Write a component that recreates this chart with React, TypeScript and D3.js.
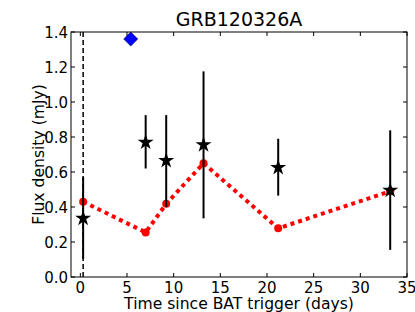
import React, { useEffect, useRef } from 'react';
import * as d3 from 'd3';

// flux measurements (stars with error bars)
const obsDays = [0.3, 7.0, 9.2, 13.2, 21.2, 33.2];
const obsFlux = [0.335, 0.77, 0.665, 0.755, 0.625, 0.495];
const obsLow = [0.105, 0.62, 0.40, 0.335, 0.465, 0.155];
const obsHigh = [0.57, 0.925, 0.925, 1.175, 0.79, 0.838];

// model curve (red dots + dotted line)
const modelDays = [0.3, 7.0, 9.2, 13.2, 21.2, 33.2];
const modelFlux = [0.43, 0.255, 0.418, 0.65, 0.278, 0.49];

// blue diamond
const extraDay = [5.4];
const extraFlux = [1.36];

const triggerDay = 0.3;
const xTicks = [0, 5, 10, 15, 20, 25, 30, 35];
const yTicks = [0, 0.2, 0.4, 0.6, 0.8, 1.0, 1.2, 1.4];

const W = 415;
const H = 312;
const margin = { left: 71, right: 8, top: 32, bottom: 35 };

export default function App() {
  const ref = useRef<SVGSVGElement>(null);

  useEffect(() => {
    if (!ref.current) return;
    const svg = d3.select(ref.current);
    svg.selectAll('*').remove();

    const x = d3.scaleLinear().domain([-1, 35]).range([margin.left, W - margin.right]);
    const y = d3.scaleLinear().domain([0, 1.4]).range([H - margin.bottom, margin.top]);
    const font = 'DejaVu Sans';

    svg.append('rect').attr('width', W).attr('height', H).attr('fill', '#fff');

    // dashed trigger line
    svg.append('line')
      .attr('x1', x(triggerDay)).attr('x2', x(triggerDay))
      .attr('y1', y(1.4)).attr('y2', y(0))
      .attr('stroke', '#000').attr('stroke-width', 1.5)
      .attr('stroke-dasharray', '5,3');

    // model dotted line
    const line = d3.line<number>()
      .x((_, i) => x(modelDays[i]))
      .y(d => y(d));
    svg.append('path')
      .datum(modelFlux)
      .attr('d', line)
      .attr('fill', 'none')
      .attr('stroke', '#ff0000')
      .attr('stroke-width', 4)
      .attr('stroke-dasharray', '4,4');

    svg.append('g').selectAll('circle')
      .data(modelFlux)
      .join('circle')
      .attr('cx', (_, i) => x(modelDays[i]))
      .attr('cy', d => y(d))
      .attr('r', 4)
      .attr('fill', '#ff0000');

    // error bars
    svg.append('g').selectAll('line')
      .data(obsDays)
      .join('line')
      .attr('x1', d => x(d)).attr('x2', d => x(d))
      .attr('y1', (_, i) => y(obsLow[i]))
      .attr('y2', (_, i) => y(obsHigh[i]))
      .attr('stroke', '#000').attr('stroke-width', 2);

    // stars
    const star = d3.symbol().type(d3.symbolStar).size(80);
    svg.append('g').selectAll('path')
      .data(obsFlux)
      .join('path')
      .attr('d', star)
      .attr('transform', (d, i) => `translate(${x(obsDays[i])},${y(d)})`)
      .attr('fill', '#000');

    // diamond
    svg.append('g').selectAll('rect')
      .data(extraFlux)
      .join('rect')
      .attr('x', -5).attr('y', -5).attr('width', 10).attr('height', 10)
      .attr('transform', (d, i) => `translate(${x(extraDay[i])},${y(d)}) rotate(45)`)
      .attr('fill', '#0000ff')
      .attr('stroke', '#000033').attr('stroke-width', 0.5);

    // frame
    svg.append('rect')
      .attr('x', margin.left).attr('y', margin.top)
      .attr('width', W - margin.left - margin.right)
      .attr('height', H - margin.top - margin.bottom)
      .attr('fill', 'none').attr('stroke', '#000').attr('stroke-width', 1);

    // ticks (inward, all sides)
    const tk = svg.append('g').attr('stroke', '#000').attr('stroke-width', 1);
    xTicks.forEach(t => {
      tk.append('line').attr('x1', x(t)).attr('x2', x(t)).attr('y1', y(0)).attr('y2', y(0) - 4);
      tk.append('line').attr('x1', x(t)).attr('x2', x(t)).attr('y1', y(1.4)).attr('y2', y(1.4) + 4);
    });
    yTicks.forEach(t => {
      tk.append('line').attr('x1', x(-1)).attr('x2', x(-1) + 4).attr('y1', y(t)).attr('y2', y(t));
      tk.append('line').attr('x1', x(35)).attr('x2', x(35) - 4).attr('y1', y(t)).attr('y2', y(t));
    });

    svg.append('g').selectAll('text')
      .data(xTicks)
      .join('text')
      .attr('x', d => x(d)).attr('y', y(0) + 16)
      .attr('text-anchor', 'middle')
      .attr('font-family', font).attr('font-size', 15)
      .text(d => String(d));

    svg.append('g').selectAll('text')
      .data(yTicks)
      .join('text')
      .attr('x', x(-1) - 3).attr('y', d => y(d) + 5.5)
      .attr('text-anchor', 'end')
      .attr('font-family', font).attr('font-size', 15)
      .text(d => d.toFixed(1));

    svg.append('text')
      .attr('x', (margin.left + W - margin.right) / 2).attr('y', 309)
      .attr('text-anchor', 'middle')
      .attr('font-family', font).attr('font-size', 15.6)
      .text('Time since BAT trigger (days)');

    svg.append('text')
      .attr('transform', `translate(44,${(margin.top + H - margin.bottom) / 2}) rotate(-90)`)
      .attr('text-anchor', 'middle')
      .attr('font-family', font).attr('font-size', 15.6)
      .text('Flux density (mJy)');

    svg.append('text')
      .attr('x', (margin.left + W - margin.right) / 2).attr('y', 26)
      .attr('text-anchor', 'middle')
      .attr('font-family', font).attr('font-size', 19)
      .text('GRB120326A');
  }, []);

  return (
    <svg ref={ref} width={W} height={H} style={{ display: 'block', position: 'absolute', left: 0, top: 0 }} />
  );
}
